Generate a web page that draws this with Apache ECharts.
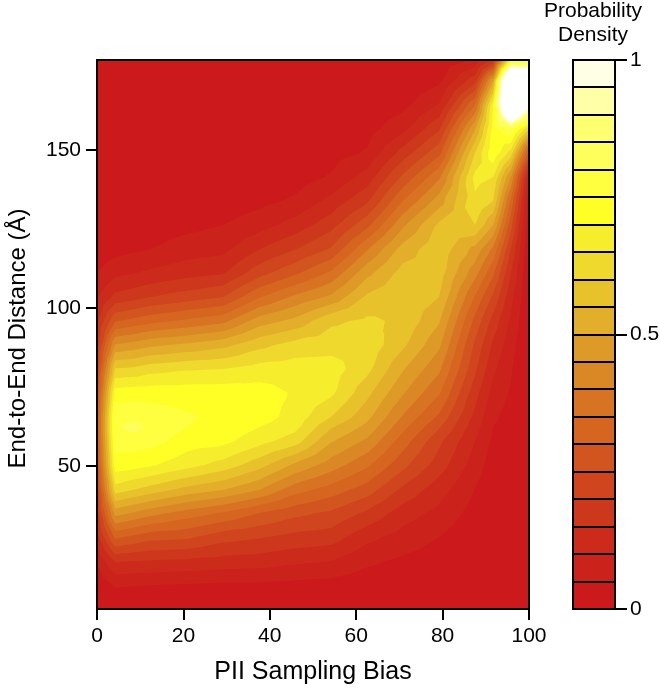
<!DOCTYPE html>
<html>
<head>
<meta charset="utf-8">
<style>
  html, body { margin: 0; padding: 0; background: #fff; }
  #chart { width: 660px; height: 688px; }
</style>
<script src="https://cdn.jsdelivr.net/npm/echarts@6/dist/echarts.min.js"></script>
</head>
<body>
<div id="chart"></div>
<script>
// PII sampling bias, columns of the density table
const biasValues = [0, 4.2, 8.3, 12.5, 20.8, 29.2, 37.5, 45.8, 54.2, 62.5, 70.8, 79.2, 87.5, 91.7, 95.8, 100]
// end-to-end distance, rows of the density table (bottom to top)
const distanceValues = [4.75, 12.3, 19.9, 27.5, 35.1, 42.7, 50.3, 57.9, 62.3, 65.5, 73.1, 80.7, 88.3, 95.9, 103.5, 111.1, 118.7, 126.3, 133.9, 141.5, 149.1, 156.6, 164.2, 171.8, 178.5]

// density, one list per bias column
const bias00 = [.003, .012, .055, .13, .18, .22, .26, .28, .285, .285, .26, .22, .18, .14, .095, .05, .02, .005, 0, 0, 0, 0, 0, 0, 0]
const bias04 = [.01, .055, .155, .31, .47, .63, .73, .77, .79, .79, .725, .605, .455, .295, .165, .086, .03, .01, 0, 0, 0, 0, 0, 0, 0]
const bias08 = [.01, .052, .15, .29, .445, .605, .72, .775, .815, .79, .73, .61, .47, .315, .18, .098, .04, .015, .003, 0, 0, 0, 0, 0, 0]
const bias12 = [.01, .05, .145, .268, .418, .582, .706, .77, .79, .78, .73, .63, .49, .335, .20, .11, .05, .02, .005, 0, 0, 0, 0, 0, 0]
const bias21 = [.01, .045, .14, .26, .378, .536, .669, .725, .75, .755, .73, .645, .51, .36, .225, .13, .075, .035, .01, .003, 0, 0, 0, 0, 0]
const bias29 = [.008, .04, .13, .22, .345, .505, .63, .715, .735, .74, .73, .65, .535, .386, .25, .145, .085, .05, .02, .008, .002, 0, 0, 0, 0]
const bias37 = [.007, .04, .125, .205, .30, .455, .57, .669, .70, .725, .725, .67, .585, .475, .345, .23, .148, .078, .035, .012, .004, 0, 0, 0, 0]
const bias46 = [.005, .035, .11, .185, .265, .375, .49, .625, .665, .68, .694, .675, .62, .515, .41, .29, .197, .12, .058, .025, .01, .003, 0, 0, 0]
const bias54 = [.005, .03, .10, .175, .24, .33, .425, .505, .555, .60, .66, .675, .63, .59, .46, .36, .255, .18, .115, .055, .03, .012, .004, 0, 0]
const bias62 = [.003, .02, .06, .115, .19, .278, .36, .44, .485, .515, .565, .615, .635, .61, .56, .485, .395, .285, .19, .12, .055, .03, .015, .005, 0]
const bias71 = [.003, .015, .04, .08, .124, .19, .265, .325, .365, .395, .455, .505, .56, .59, .585, .57, .52, .44, .35, .26, .171, .085, .035, .015, .005]
const bias79 = [.002, .01, .025, .05, .085, .122, .175, .212, .255, .29, .355, .41, .46, .505, .55, .575, .585, .56, .475, .39, .285, .195, .105, .04, .015]
const bias87 = [0, 0, .005, .015, .03, .05, .075, .10, .12, .135, .17, .21, .24, .285, .345, .42, .485, .60, .64, .665, .60, .495, .35, .185, .055]
const bias92 = [0, 0, 0, 0, .004, .012, .025, .04, .05, .06, .08, .11, .14, .18, .24, .31, .39, .50, .60, .65, .74, .72, .70, .50, .15]
const bias96 = [0, 0, 0, 0, 0, .005, .01, .02, .025, .03, .045, .055, .07, .09, .115, .15, .20, .27, .34, .45, .63, .80, 1.4, 1.5, .70]
const bias100 = [0, 0, 0, 0, 0, 0, 0, 0, 0, 0, 0, 0, 0, 0, 0, 0, 0, .005, .02, .07, .28, .60, 1.0, 1.3, .72]
const densityColumns = [bias00, bias04, bias08, bias12, bias21, bias29, bias37, bias46, bias54, bias62, bias71, bias79, bias87, bias92, bias96, bias100]

// contour levels and the colour of the band above each one
const bandLevels = [0, .05, .10, .15, .20, .25, .30, .35, .40, .45, .50, .55, .60, .65, .70, .75, .80, .85, .90, .95]
const bandColors = ['#CC1A1C', '#CC221C', '#CC2B1C', '#CD381C', '#D0441E', '#D2551F', '#D5651F', '#D87323', '#DA8825', '#DE9A27',
  '#E3AE2A', '#E7C22B', '#EFD92C', '#F6EE2C', '#FFFF26', '#FFFF40', '#FFFF5C', '#FFFF70', '#FFFFA8', '#FFFFE6']
const bandStep = 0.05
// above the top of the scale the picture goes plain white
const peakLevel = 1
const peakColor = '#FFFFFF'

const xTicks = [0, 20, 40, 60, 80, 100]
const yTicks = [50, 100, 150]
const scaleTicks = [0, 0.5, 1]

const FONT = '"Liberation Sans", Arial, sans-serif'

// keep the part of a triangle at or above the level
function clipAbove (tri, level) {
  const out = []
  for (let i = 0; i < tri.length; i++) {
    const a = tri[i]
    const b = tri[(i + 1) % tri.length]
    if (a[2] >= level) out.push(a)
    if ((a[2] >= level) !== (b[2] >= level)) {
      const t = (level - a[2]) / (b[2] - a[2])
      out.push([a[0] + t * (b[0] - a[0]), a[1] + t * (b[1] - a[1]), level])
    }
  }
  return out
}

// path of everything above one level, through the axis scales
function levelPath (level, api) {
  let d = ''
  const addTriangle = (tri) => {
    const poly = clipAbove(tri, level)
    if (poly.length < 3) return
    poly.forEach((p, i) => {
      const c = api.coord([p[0], p[1]])
      d += (i ? 'L' : 'M') + c[0].toFixed(2) + ' ' + c[1].toFixed(2)
    })
    d += 'Z'
  }
  for (let i = 0; i < biasValues.length - 1; i++) {
    for (let j = 0; j < distanceValues.length - 1; j++) {
      const ll = [biasValues[i], distanceValues[j], densityColumns[i][j]]
      const lr = [biasValues[i + 1], distanceValues[j], densityColumns[i + 1][j]]
      const ur = [biasValues[i + 1], distanceValues[j + 1], densityColumns[i + 1][j + 1]]
      const ul = [biasValues[i], distanceValues[j + 1], densityColumns[i][j + 1]]
      const mid = [(ll[0] + lr[0]) / 2, (ll[1] + ul[1]) / 2, (ll[2] + lr[2] + ur[2] + ul[2]) / 4]
      addTriangle([ll, lr, mid])
      addTriangle([lr, ur, mid])
      addTriangle([ur, ul, mid])
      addTriangle([ul, ll, mid])
    }
  }
  return d
}

const contourLevels = bandLevels.concat([peakLevel])
const contourColors = bandColors.concat([peakColor])

const chart = echarts.init(document.getElementById('chart'), null, { renderer: 'canvas' })

const frameLine = { show: true, onZero: false, lineStyle: { color: '#000', width: 2 } }
const tickStyle = { show: true, length: 11, lineStyle: { color: '#000', width: 2 } }
const labelStyle = { color: '#000', fontFamily: FONT, fontSize: 21 }

chart.setOption({
  animation: false,
  backgroundColor: '#fff',
  textStyle: { fontFamily: FONT },
  title: {
    text: 'Probability\nDensity',
    left: 588,
    top: -6,
    textAlign: 'center',
    textStyle: { color: '#000', fontFamily: FONT, fontSize: 21, fontWeight: 'normal', lineHeight: 24 }
  },
  grid: [
    { left: 97, top: 60, width: 432, height: 549, outerBoundsMode: 'none' },
    { left: 573, top: 60, width: 42, height: 549, outerBoundsMode: 'none' }
  ],
  xAxis: [
    {
      gridIndex: 0,
      type: 'value',
      min: 0,
      max: 100,
      interval: 20,
      position: 'bottom',
      axisLine: frameLine,
      axisTick: tickStyle,
      axisLabel: Object.assign({ margin: 17, customValues: xTicks }, labelStyle),
      splitLine: { show: false },
      name: 'PII Sampling Bias',
      nameLocation: 'middle',
      nameGap: 51,
      nameTextStyle: { color: '#000', fontFamily: FONT, fontSize: 25 },
      z: 5
    },
    {
      gridIndex: 0,
      type: 'value',
      min: 0,
      max: 100,
      position: 'top',
      axisLine: frameLine,
      axisTick: { show: false },
      axisLabel: { show: false },
      splitLine: { show: false },
      z: 5
    },
    {
      gridIndex: 1,
      type: 'category',
      data: [''],
      axisLine: { show: false },
      axisTick: { show: false },
      axisLabel: { show: false },
      splitLine: { show: false }
    }
  ],
  yAxis: [
    {
      gridIndex: 0,
      type: 'value',
      min: distanceValues[0],
      max: distanceValues[distanceValues.length - 1],
      position: 'left',
      axisLine: frameLine,
      axisTick: Object.assign({ customValues: yTicks }, tickStyle),
      axisLabel: Object.assign({ margin: 16, customValues: yTicks }, labelStyle),
      splitLine: { show: false },
      name: 'End-to-End Distance (Å)',
      nameLocation: 'middle',
      nameRotate: 90,
      nameGap: 67,
      nameTextStyle: { color: '#000', fontFamily: FONT, fontSize: 24, padding: [0, 8, 0, 0] },
      z: 5
    },
    {
      gridIndex: 0,
      type: 'value',
      min: distanceValues[0],
      max: distanceValues[distanceValues.length - 1],
      position: 'right',
      axisLine: frameLine,
      axisTick: { show: false },
      axisLabel: { show: false },
      splitLine: { show: false },
      z: 5
    },
    {
      gridIndex: 1,
      type: 'value',
      min: 0,
      max: 1,
      interval: 0.5,
      position: 'right',
      axisLine: { show: true, lineStyle: { color: '#000', width: 2 } },
      axisTick: { show: true, length: 12, customValues: scaleTicks, lineStyle: { color: '#000', width: 2 } },
      axisLabel: Object.assign({ margin: 15, customValues: scaleTicks, formatter: (v) => String(v) }, labelStyle),
      splitLine: { show: false },
      z: 5
    }
  ],
  series: [
    {
      type: 'custom',
      xAxisIndex: 0,
      yAxisIndex: 0,
      coordinateSystem: 'cartesian2d',
      silent: true,
      clip: true,
      z: 1,
      data: contourLevels.map((l, i) => [i]),
      renderItem (params, api) {
        const idx = api.value(0)
        return {
          type: 'path',
          shape: { pathData: levelPath(contourLevels[idx], api) },
          style: { fill: contourColors[idx] }
        }
      }
    },
    {
      // colour scale: one outlined cell per band
      type: 'custom',
      xAxisIndex: 2,
      yAxisIndex: 2,
      coordinateSystem: 'cartesian2d',
      silent: true,
      z: 2,
      data: bandLevels.map((level, i) => [0, level, i]),
      renderItem (params, api) {
        const low = api.value(1)
        const bottom = Math.round(api.coord([0, low])[1])
        const top = Math.round(api.coord([0, low + bandStep])[1])
        const center = api.coord([0, low])[0]
        const w = api.size([1, 0])[0]
        return {
          type: 'rect',
          shape: { x: Math.round(center - w / 2), y: top, width: Math.round(w), height: bottom - top },
          style: { fill: bandColors[api.value(2)], stroke: '#000', lineWidth: 2 }
        }
      }
    }
  ]
})
</script>
</body>
</html>
